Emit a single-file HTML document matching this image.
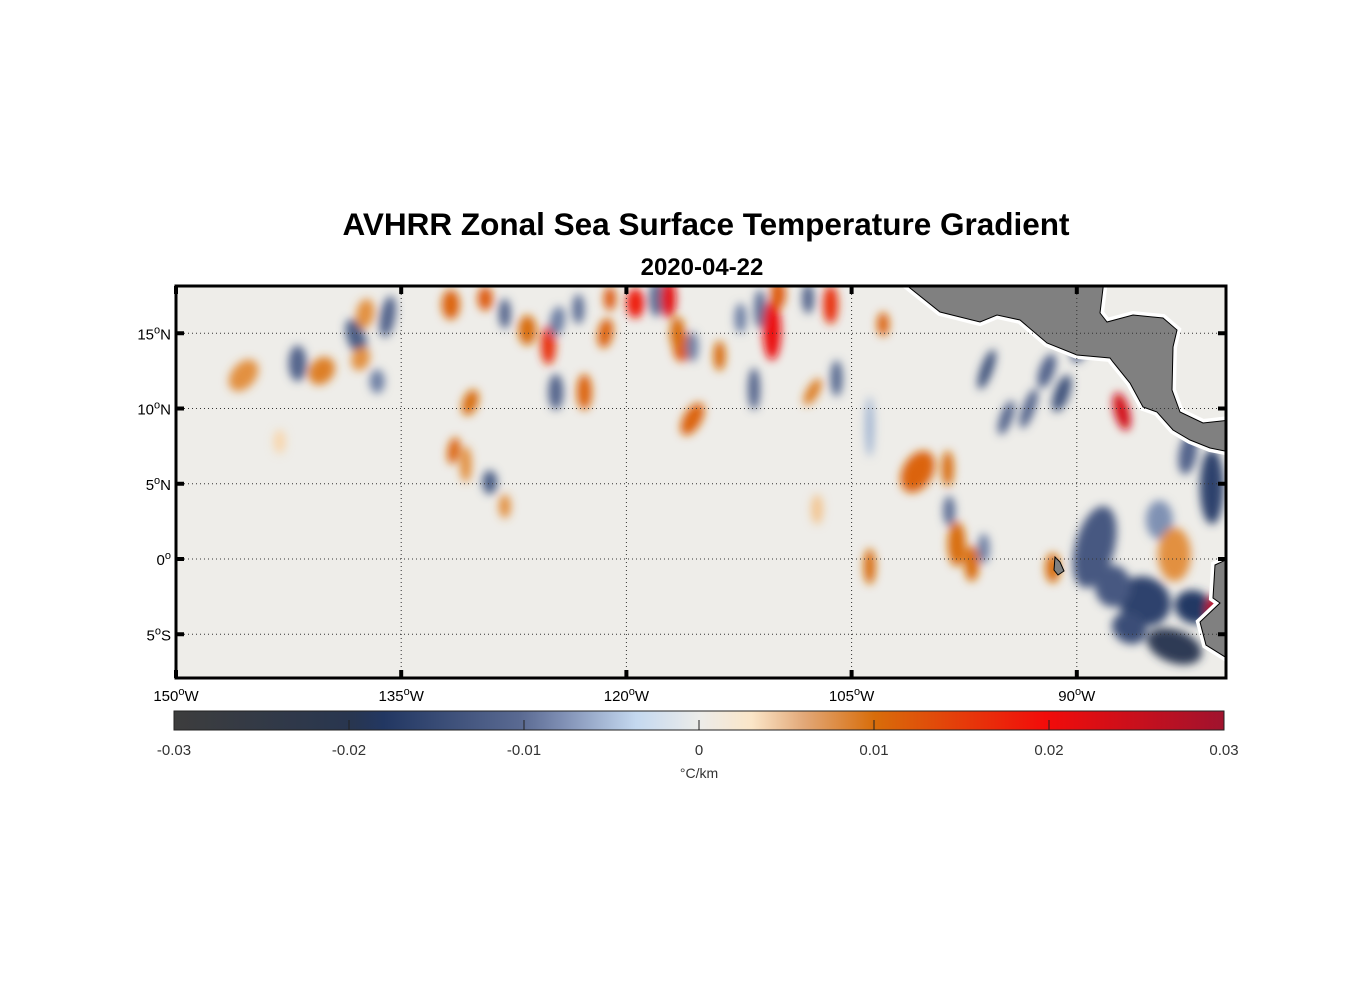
<!DOCTYPE html>
<html><head><meta charset="utf-8">
<style>
body{margin:0;background:#fff;width:1356px;height:1000px;overflow:hidden;font-family:"Liberation Sans",Arial,sans-serif}
svg text{font-family:"Liberation Sans",Arial,sans-serif}
</style></head>
<body>
<svg id="chart" width="1356" height="1000" viewBox="0 0 1356 1000" xmlns="http://www.w3.org/2000/svg">
<defs>
<filter id="blur" x="-50%" y="-50%" width="200%" height="200%"><feGaussianBlur stdDeviation="4.5"/></filter>
<clipPath id="mapclip"><rect x="176" y="286" width="1050" height="392"/></clipPath>
<linearGradient id="cbgrad" x1="0" x2="1" y1="0" y2="0">
<stop offset="0" stop-color="#3d3d3d"/><stop offset="0.17" stop-color="#283650"/>
<stop offset="0.2" stop-color="#223762"/><stop offset="0.33" stop-color="#5a6a92"/>
<stop offset="0.37" stop-color="#7f8fb4"/><stop offset="0.44" stop-color="#c4d8ef"/>
<stop offset="0.5" stop-color="#ececea"/><stop offset="0.55" stop-color="#fbe6c8"/>
<stop offset="0.6" stop-color="#e2a878"/><stop offset="0.667" stop-color="#d86d0a"/>
<stop offset="0.83" stop-color="#f20c0a"/><stop offset="1" stop-color="#a0132e"/>
</linearGradient>
</defs>
<text x="706" y="235" text-anchor="middle" font-size="31.5" font-weight="bold">AVHRR Zonal Sea Surface Temperature Gradient</text>
<text x="702" y="275" text-anchor="middle" font-size="24" font-weight="bold">2020-04-22</text>
<g clip-path="url(#mapclip)">
<rect x="176" y="286" width="1050" height="392" fill="#eeede9"/>
<g id="blobs" filter="url(#blur)"></g>
<g fill="none" stroke="#fff" stroke-width="8">
<polygon points="900,280 1104,280 1100,313 1107,322 1133,315 1163,318 1177,330 1173,347 1172,390 1180,412 1203,423 1230,420 1230,452 1210,448 1190,440 1173,430 1157,412 1143,407 1130,383 1113,362 1110,358 1077,355 1047,343 1020,320 997,315 980,322 940,312"/>
<polygon points="1230,558 1215,565 1213,598 1220,603 1200,622 1206,645 1230,660"/>
</g>
<polygon fill="#808080" stroke="#000" stroke-width="1" points="900,280 1104,280 1100,313 1107,322 1133,315 1163,318 1177,330 1173,347 1172,390 1180,412 1203,423 1230,420 1230,452 1210,448 1190,440 1173,430 1157,412 1143,407 1130,383 1113,362 1110,358 1077,355 1047,343 1020,320 997,315 980,322 940,312"/>
<polygon fill="#808080" stroke="#000" stroke-width="1" points="1230,558 1215,565 1213,598 1220,603 1200,622 1206,645 1230,660"/>
<polygon fill="#808080" stroke="#000" stroke-width="1" points="1055,557 1060,562 1064,571 1058,575 1054,570"/>
<g id="grid" stroke="#333" stroke-width="1" stroke-dasharray="1,3"></g>
</g>
<rect x="176" y="286" width="1050" height="392" fill="none" stroke="#000" stroke-width="3"/>
<g id="ticks"></g>
<rect x="174" y="711" width="1050" height="19" fill="url(#cbgrad)" stroke="#222" stroke-width="1"/>
<g id="cbticks"></g>
<text x="699" y="778" text-anchor="middle" font-size="14" fill="#333">°C/km</text>
</svg>
<script>
const lonTicks=[-150,-135,-120,-105,-90];
const lonLabels=["150","135","120","105","90"];
const latTicks=[15,10,5,0,-5];
const latLabels=["15","10","5","0","5"];
const latSuffix=["N","N","N","",'S'];
const cbTicks=[-0.03,-0.02,-0.01,0,0.01,0.02,0.03];
const cbLabels=["-0.03","-0.02","-0.01","0","0.01","0.02","0.03"];
// blobs: lon, lat, value
const blobLon=[-135.9,-138.0,-137.4,-140.3,-136.6,-137.7,-145.5,-141.9,-143.1,-131.7,-131.5,-130.4,-129.4,-128.1,-126.6,-125.2,-124.6,-123.2,-124.7,-122.8,-121.4,-121.1,-130.7,-129.1,-128.1,-119.4,-118.0,-116.3,-115.6,-117.2,-116.6,-115.6,-113.8,-112.4,-111.1,-110.3,-109.9,-111.5,-107.6,-107.9,-106.4,-106.0,-107.3,-103.8,-102.9,-96.0,-91.0,-92.0,-94.7,-87.0,-100.6,-98.6,-98.0,-97.0,-98.5,-93.2,-91.6,-88.8,-85.5,-87.6,-83.5,-82.2,-81.0,-84.5,-83.5,-80.8,-96.2,-103.8,-89.8,-86.5,-82.6];
const blobLat=[16.1,14.7,16.3,12.5,11.8,13.3,12.2,13.0,7.8,16.9,7.2,10.4,17.3,16.3,15.2,14.2,15.8,16.6,11.1,11.1,15.0,17.3,6.3,5.1,3.5,17.0,17.3,14.1,9.3,17.3,15.0,14.1,13.5,16.0,16.6,15.2,17.6,11.3,11.1,17.3,16.9,12.0,3.3,-0.5,15.6,12.6,11.0,12.5,9.4,9.8,5.8,6.0,1.0,-0.3,3.2,10.0,-0.6,0.8,-2.8,-1.8,-5.8,-3.2,4.8,2.6,0.3,-3.4,0.7,8.8,14.0,-4.6,7.0];
const blobVal=[-0.012,-0.013,0.008,0.009,-0.009,0.008,0.008,-0.012,0.004,0.011,0.011,0.01,0.012,-0.012,0.01,0.016,-0.009,-0.01,-0.012,0.011,0.011,0.012,0.008,-0.013,0.008,0.018,-0.01,0.012,0.011,0.022,0.01,-0.009,0.01,-0.009,-0.01,0.021,0.012,-0.012,0.009,-0.012,0.016,-0.011,0.005,0.01,0.011,-0.015,-0.015,-0.012,-0.012,0.024,0.011,0.01,0.01,0.01,-0.01,-0.012,0.01,-0.014,-0.018,-0.014,-0.024,-0.02,-0.018,-0.008,0.008,0.026,-0.009,-0.006,-0.012,-0.016,-0.012];
// ellipse shapes (half axes in degrees, angle)
const shpRx=[0.5,0.6,0.6,0.8,0.5,0.6,0.8,0.6,0.4,0.6,0.4,0.5,0.5,0.4,0.6,0.5,0.5,0.4,0.5,0.5,0.5,0.4,0.4,0.5,0.4,0.6,0.5,0.6,0.6,0.5,0.5,0.4,0.4,0.4,0.4,0.6,0.5,0.4,0.4,0.4,0.5,0.4,0.4,0.4,0.4,0.4,0.5,0.5,0.4,0.5,1.0,0.4,0.6,0.5,0.4,0.4,0.5,1.3,1.8,1.2,1.9,1.3,0.8,0.9,1.1,0.6,0.4,0.3,0.5,1.2,0.6];
const shpRy=[1.4,1.3,1.0,1.0,0.8,0.8,1.2,1.2,0.8,1.0,0.9,0.9,0.8,1.0,1.0,1.3,1.0,1.0,1.2,1.2,1.0,0.8,1.2,0.8,0.8,1.0,1.2,1.0,1.2,1.3,1.1,1.0,1.0,1.0,1.3,2.0,1.0,1.4,1.0,1.0,1.3,1.2,1.0,1.2,0.8,1.4,1.3,1.2,1.2,1.3,1.5,1.2,1.5,1.2,1.0,1.4,1.0,2.8,1.6,1.4,1.1,1.1,2.5,1.3,1.8,1.0,1.0,2.0,1.0,1.0,1.4];
const shpRot=[10,-20,10,40,0,20,40,0,0,0,10,20,0,0,0,0,10,0,0,0,10,0,0,0,0,0,0,0,30,0,0,0,0,0,0,0,0,0,30,0,0,0,0,0,0,20,20,20,20,-15,30,0,0,0,0,20,0,15,30,0,20,20,0,0,0,0,0,0,20,30,10];

const X=lon=>176+(lon+150)*15.0133;
const Y=lat=>559-lat*15.05;
const NS="http://www.w3.org/2000/svg";
const cstops=[[-0.03,[61,61,61]],[-0.02,[36,56,99]],[-0.01,[93,110,149]],[-0.004,[196,216,239]],[0,[238,237,233]],[0.003,[252,232,200]],[0.01,[216,109,10]],[0.02,[242,12,10]],[0.03,[160,19,46]]];
function col(v){v=Math.max(-0.03,Math.min(0.03,v));for(let i=0;i<cstops.length-1;i++){const[a,ca]=cstops[i],[b,cb]=cstops[i+1];if(v<=b){const t=(v-a)/(b-a);return "rgb("+ca.map((c,k)=>Math.round(c+(cb[k]-c)*t)).join(",")+")";}}return "rgb(160,19,46)";}
const bg=document.getElementById('blobs');
for(let i=0;i<blobLon.length;i++){
 const e=document.createElementNS(NS,'ellipse');
 const cx=X(blobLon[i]),cy=Y(blobLat[i]);
 e.setAttribute('cx',cx);e.setAttribute('cy',cy);
 e.setAttribute('rx',shpRx[i]*15);e.setAttribute('ry',shpRy[i]*15);
 e.setAttribute('transform','rotate('+shpRot[i]+' '+cx+' '+cy+')');
 e.setAttribute('fill',col(blobVal[i]));
 
 
 bg.appendChild(e);
}
const grid=document.getElementById('grid'),tk=document.getElementById('ticks');
function mk(tag,attrs,parent){const e=document.createElementNS(NS,tag);for(const k in attrs)e.setAttribute(k,attrs[k]);parent.appendChild(e);return e;}
lonTicks.forEach((lon,i)=>{
 const x=X(lon);
 const g=mk('line',{x1:x,x2:x,y1:286,y2:678},grid);
 
 
 mk('line',{x1:x,x2:x,y1:286,y2:294,stroke:'#000','stroke-width':4},tk);
 mk('line',{x1:x,x2:x,y1:670,y2:678,stroke:'#000','stroke-width':4},tk);
 const t=mk('text',{x:x,y:701,'text-anchor':'middle','font-size':15},tk);
 
 
 t.innerHTML=lonLabels[i]+'<tspan dy="-6" font-size="11">o</tspan><tspan dy="6">W</tspan>';
});
latTicks.forEach((lat,i)=>{
 const y=Y(lat);
 const g=mk('line',{x1:176,x2:1226,y1:y,y2:y},grid);
 
 
 mk('line',{x1:176,x2:184,y1:y,y2:y,stroke:'#000','stroke-width':4},tk);
 mk('line',{x1:1218,x2:1226,y1:y,y2:y,stroke:'#000','stroke-width':4},tk);
 const t=mk('text',{x:171,y:y+6,'text-anchor':'end','font-size':15},tk);
 
 
 t.innerHTML=latLabels[i]+'<tspan dy="-6" font-size="11">o</tspan><tspan dy="6">'+latSuffix[i]+'</tspan>';
});
const cbt=document.getElementById('cbticks');
cbTicks.forEach((v,i)=>{
 const x=174+(v+0.03)/0.06*1050;
 if(i>0&&i<cbTicks.length-1)mk('line',{x1:x,x2:x,y1:720,y2:730,stroke:'#222','stroke-width':1},cbt);
 const t=mk('text',{x:x,y:755,'text-anchor':'middle','font-size':15,fill:'#333'},cbt);
 
 
 t.textContent=cbLabels[i];
});
</script>
</body></html>
